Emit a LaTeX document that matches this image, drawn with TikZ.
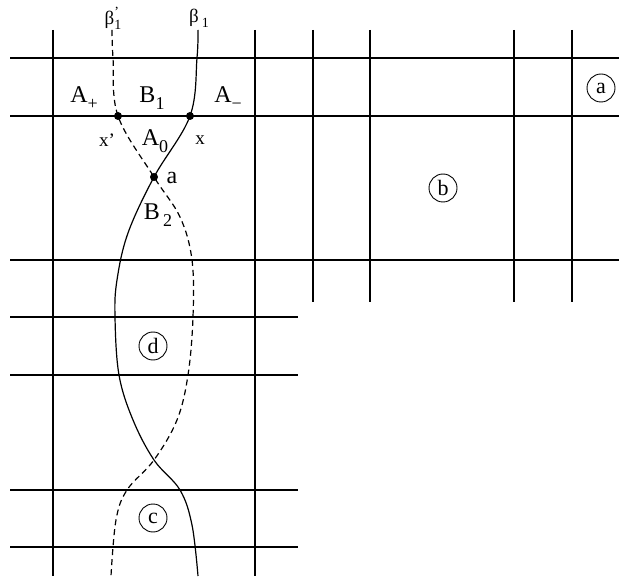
\documentclass[tikz,border=0pt]{standalone}
\usepackage{fontspec}
\setmainfont{Liberation Serif}
\usetikzlibrary{positioning}
\newcommand{\lsub}[2]{#1\raisebox{-0.3em}{\fontsize{18}{18}\selectfont #2}}
\newcommand{\ssub}[1]{\raisebox{-0.25em}{\fontsize{14}{14}\selectfont #1}}

\begin{document}
\begin{tikzpicture}[x=1pt, y=-1pt,
  grid/.style={line width=1.2pt},
  strand/.style={line width=1.2pt},
  twin/.style={strand, dash pattern=on 6pt off 4pt},
  big/.style={inner sep=0pt, font=\fontsize{24}{24}\selectfont},
  small/.style={inner sep=0pt, font=\fontsize{19}{19}\selectfont},
  tag/.style={circle, draw, line width=0.9pt, minimum size=28pt, inner sep=0pt,
    font=\fontsize{22}{22}\selectfont},
  dot/.style={circle, fill, inner sep=0pt, minimum size=8pt}
]
\useasboundingbox (0,0) rectangle (619,580);

% grid
\foreach \y in {58,116,260} \draw[grid] (10,\y) -- (619,\y);
\foreach \y in {317,375,490,547} \draw[grid] (10,\y) -- (298,\y);
\foreach \x in {53,255} \draw[grid] (\x,30) -- (\x,576);
\foreach \x in {313,370,514,572} \draw[grid] (\x,30) -- (\x,302);

\coordinate (xp) at (118,116);
\coordinate (xr) at (190,116);
\coordinate (cross) at (154,177);
\coordinate (low) at (154,460);

% the two strands
\draw[strand] plot[smooth, tension=0.6] coordinates {(198,30) (197,58) (xr) (cross)
  (128,233) (117,280) (115,317) (119,375) (133,420) (low) (180,490) (192,525) (198,576)};
\draw[twin] plot[smooth, tension=0.6] coordinates {(112,30) (113,58) (xp) (cross)
  (180,217) (192,260) (193,317) (188,375) (177,420) (low) (127,490) (116,520) (111,576)};

\node[dot] (dxp) at (xp) {};
\node[dot] (dxr) at (xr) {};
\node[dot] (da) at (cross) {};

\node[small] (b1p) at (113,18) {β\rlap{\raisebox{0.45em}{\fontsize{14}{14}\selectfont ’}}\ssub{1}};
\node[small] (b1) at (199,18) {β\,\ssub{1}};

\node[big] (ap) at (84,98) {\lsub{A}{+}};
\node[big] (bone) at (152,98) {\lsub{B}{1}};
\node[big] (am) at (228,98) {\lsub{A}{−}};
\node[small] (lxp) at (107,140) {x’};
\node[big] (azero) at (155,141) {\lsub{A}{0}};
\node[small] (lx) at (200,140) {x};
\node[big] (la) at (172,178) {a};
\node[big] (btwo) at (158,215) {\lsub{B}{\,2}};

\node[tag] (ta) at (601,88) {a};
\node[tag] (tb) at (443,188) {b};
\node[tag] (td) at (153,346) {d};
\node[tag] (tc) at (153,518) {c};
\end{tikzpicture}
\end{document}
